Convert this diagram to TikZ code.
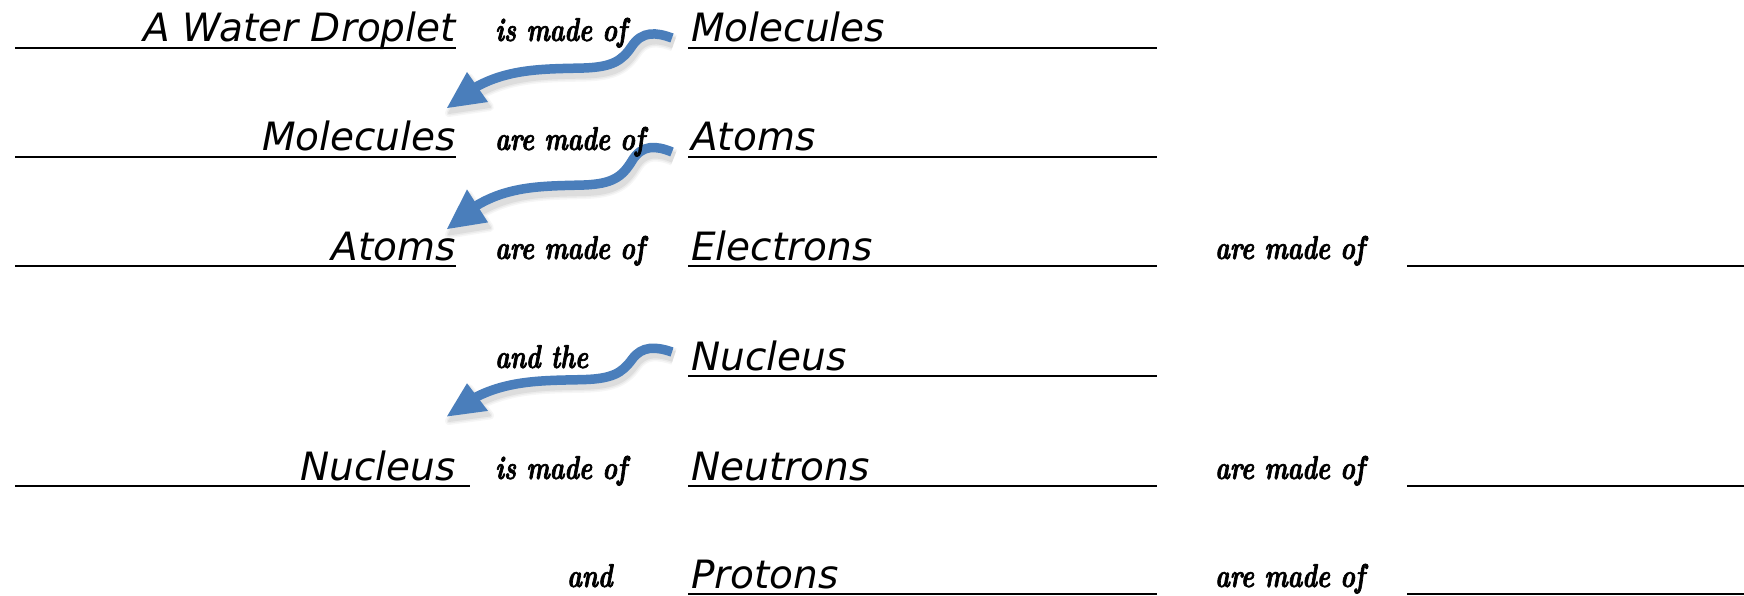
\documentclass[tikz,border=0pt]{standalone}
\usepackage{fontspec}
\newfontfamily\handfont{DejaVu Sans}
\newfontfamily\cursfont{Latin Modern Roman}[FakeStretch=0.75, FakeBold=2]
\definecolor{arrblue}{RGB}{74,126,187}
\tikzset{
  word/.style={font=\handfont\itshape\fontsize{39}{44}\selectfont, inner sep=0pt},
  link/.style={font=\cursfont\bfseries\itshape\fontsize{33}{36}\selectfont, inner sep=0pt},
  rule/.style={line width=1.5pt, black},
  arrbody/.style={line width=9.5pt},
}
\newcommand\wavypath{(0,0) .. controls (-16,-6) and (-30,-7) .. (-40,8)
        .. controls (-50,23) and (-60,29) .. (-88,30)
        .. controls (-125,31) and (-162,30) .. (-196,49)}
\newcommand\wavyarrow[4]{% name, x, y, yscale
  \begin{scope}[shift={(#2,#3)}, yscale=#4]
    \foreach \w/\o in {17/0.035, 14/0.045, 11/0.06}{
      \begin{scope}[transparency group, opacity=\o, shift={(2,5)}]
        \draw[arrbody, line width=\w pt, black, line join=round] \wavypath;
        \fill[black, draw=black, line width=\w pt-9pt, line join=round] (-225,70) -- (-205,34) -- (-184,64) -- cycle;
      \end{scope}}
    \draw[arrbody, draw=arrblue] \wavypath;
    \fill[arrblue] (-225,70) -- (-205,34) -- (-184,64) -- cycle;
    \coordinate (#1) at (-225,70);
  \end{scope}}
\begin{document}
\begin{tikzpicture}[x=1pt, y=-1pt]
\useasboundingbox (0,0) rectangle (1744,596);
% arrows
\wavyarrow{t1}{672}{38}{1.0}
\wavyarrow{t2}{672}{152}{1.1}
\wavyarrow{t3}{672}{352}{0.92}
% row 1
\draw[rule] (15,48) -- (456,48);
\draw[rule] (688,48) -- (1157,48);
\node[word, anchor=base east] (w1) at (456,42) {A Water Droplet};
\node[link, anchor=base west] (l1) at (495,41) {is made of};
\node[word, anchor=base west] (m1) at (691,42) {Molecules};
% row 2
\draw[rule] (15,157) -- (456,157);
\draw[rule] (688,157) -- (1157,157);
\node[word, anchor=base east] (w2) at (456,151) {Molecules};
\node[link, anchor=base west] (l2) at (495,150) {are made of};
\node[word, anchor=base west] (m2) at (691,151) {Atoms};
% row 3
\draw[rule] (15,266) -- (456,266);
\draw[rule] (688,266) -- (1157,266);
\draw[rule] (1407,266) -- (1744,266);
\node[word, anchor=base east] (w3) at (456,260) {Atoms};
\node[link, anchor=base west] (l3) at (495,259) {are made of};
\node[word, anchor=base west] (m3) at (691,260) {Electrons};
\node[link, anchor=base west] (r3) at (1215,259) {are made of};
% row 4
\draw[rule] (688,376) -- (1157,376);
\node[link, anchor=base west] (l4) at (495,368) {and the};
\node[word, anchor=base west] (m4) at (691,370) {Nucleus};
% row 5
\draw[rule] (15,486) -- (470,486);
\draw[rule] (688,486) -- (1157,486);
\draw[rule] (1407,486) -- (1744,486);
\node[word, anchor=base east] (w5) at (456,480) {Nucleus};
\node[link, anchor=base west] (l5) at (495,479) {is made of};
\node[word, anchor=base west] (m5) at (691,480) {Neutrons};
\node[link, anchor=base west] (r5) at (1215,479) {are made of};
% row 6
\draw[rule] (688,594) -- (1157,594);
\draw[rule] (1407,594) -- (1744,594);
\node[link, anchor=base west] (l6) at (567,587) {and};
\node[word, anchor=base west] (m6) at (691,588) {Protons};
\node[link, anchor=base west] (r6) at (1215,587) {are made of};
\end{tikzpicture}
\end{document}
